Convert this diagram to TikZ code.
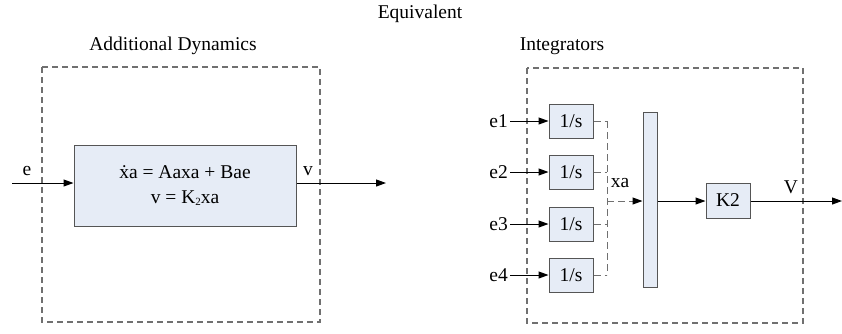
\documentclass[tikz,border=0pt]{standalone}
\usepackage{fontspec}
\setmainfont{Liberation Serif}
\usetikzlibrary{arrows.meta}
\definecolor{boxfill}{HTML}{E6ECF6}
\definecolor{boxedge}{HTML}{555555}
\definecolor{dashgray}{HTML}{707070}
\tikzset{
  blockbox/.style={draw=boxedge, fill=boxfill, line width=1pt, inner sep=0pt},
  frame/.style={draw=dashgray, line width=1.3pt, dash pattern=on 6pt off 4pt},
  sig/.style={line width=1pt, -{Triangle[length=10pt,width=7pt,color=black]}},
  dsig/.style={line width=1pt, dash pattern=on 7pt off 4pt},
  lbl/.style={font=\fontsize{19.5}{22}\selectfont, inner sep=0pt}
}
\begin{document}
\begin{tikzpicture}[x=1pt, y=-1pt]
\useasboundingbox (0,0) rectangle (842,333);

% titles
\node[lbl] (ttl) at (420,14) {Equivalent};
\node[lbl] (tadd) at (173,46) {Additional Dynamics};
\node[lbl] (tint) at (562,46) {Integrators};

% dashed frames
\draw[frame] (42,67) rectangle (320,322);
\draw[frame] (527,68) rectangle (803,323);

% left: state-space block
\node[blockbox, minimum width=222pt, minimum height=81pt] (ss) at (185,185.5) {};
\node[lbl] (eq1) at (185,172) {\.xa = Aaxa + Bae};
\node[lbl] (eq2) at (185,198) {v = K\raisebox{-0.3ex}{\fontsize{11}{12}\selectfont 2}xa};
\coordinate (ein) at (12,183);
\coordinate (vout) at (386,183);
\draw[sig] (ein) -- (ein -| ss.west);
\draw[sig] (vout -| ss.east) -- (vout);
\node[lbl] (le) at (27,171) {e};
\node[lbl] (lv) at (308,171) {v};

% right: integrators, mux, gain
\foreach \i/\y in {1/121,2/172,3/224,4/275}{
  \node[blockbox, minimum width=44pt, minimum height=34pt] (int\i) at (571,\y) {};
  \node[lbl] at (int\i) {1/s};
  \coordinate (in\i) at (510,\y);
  \node[lbl, anchor=east] (le\i) at (508,\y) {e\i};
  \draw[sig] (in\i) -- (int\i.west);
  \coordinate (c\i) at (607,\y);
  \draw[dsig, draw=dashgray] (int\i.east) -- (c\i);
}
\draw[dsig, draw=dashgray] (c1) -- (c4);
\node[blockbox, minimum width=14pt, minimum height=175pt] (mux) at (650,199.5) {};
\node[blockbox, minimum width=44pt, minimum height=35pt] (k2) at (728,200.5) {};
\node[lbl] at (k2) {K2};
\coordinate (xa) at (607,201);
\draw[sig, dash pattern=on 7pt off 4pt, draw=dashgray] (xa) -- (xa -| mux.west);
\draw[sig] (xa -| mux.east) -- (xa -| k2.west);
\coordinate (vend) at (842,201);
\draw[sig] (xa -| k2.east) -- (vend);
\node[lbl] (lxa) at (620,183) {xa};
\node[lbl] (lV) at (791,187) {V};
\end{tikzpicture}
\end{document}
